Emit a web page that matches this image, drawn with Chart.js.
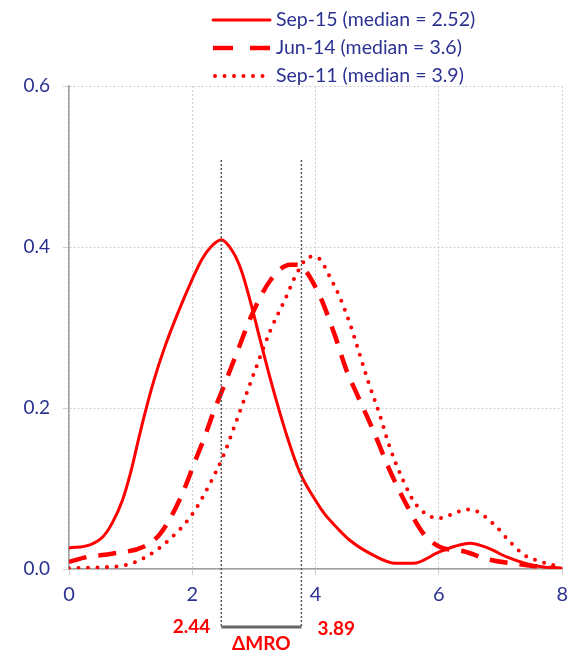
<!DOCTYPE html>
<html>
<head>
<meta charset="utf-8">
<script src="https://cdn.jsdelivr.net/npm/chart.js@4"></script>
<style>
  html, body { margin: 0; padding: 0; background: #fff; }
</style>
</head>
<body>
<canvas id="kurve" width="576" height="658"></canvas>
<script>
// Serienavn (legend)
const serieNavn = ['Sep-15 (median = 2.52)', 'Jun-14 (median = 3.6)', 'Sep-11 (median = 3.9)'];

// Sep-15 (heltrukken)
const sep15X = [0, 0.34, 0.55, 0.7, 0.87, 1.0, 1.14, 1.22, 1.38, 1.55, 1.75, 2.0, 2.15, 2.3, 2.47, 2.65, 2.8, 2.95, 3.1, 3.27, 3.54, 3.75, 4.0, 4.13, 4.3, 4.55, 4.94, 5.3, 5.58, 6.0, 6.25, 6.5, 6.8, 7.1, 7.5, 8.0];
const sep15Y = [0.026, 0.03, 0.04, 0.057, 0.086, 0.12, 0.165, 0.19, 0.235, 0.275, 0.315, 0.36, 0.384, 0.4, 0.409, 0.395, 0.37, 0.33, 0.285, 0.235, 0.164, 0.119, 0.085, 0.07, 0.055, 0.036, 0.017, 0.007, 0.007, 0.021, 0.028, 0.032, 0.026, 0.015, 0.005, 0];

// Jun-14 (stiplet)
const jun14X = [0, 0.3, 0.7, 1.22, 1.46, 1.62, 1.83, 2.05, 2.2, 2.34, 2.47, 2.74, 2.95, 3.27, 3.59, 3.7, 4.02, 4.3, 4.5, 4.66, 4.93, 5.2, 5.46, 5.74, 6.0, 6.4, 6.8, 7.4, 8.0];
const jun14Y = [0.009, 0.015, 0.019, 0.028, 0.042, 0.06, 0.092, 0.135, 0.164, 0.194, 0.219, 0.272, 0.313, 0.359, 0.378, 0.378, 0.347, 0.293, 0.247, 0.219, 0.173, 0.123, 0.082, 0.045, 0.028, 0.022, 0.012, 0.005, 0];

// Sep-11 (prikket)
const sep11X = [0, 0.5, 0.93, 1.25, 1.62, 2.0, 2.3, 2.5, 2.74, 3.0, 3.27, 3.5, 3.7, 3.91, 4.05, 4.23, 4.39, 4.55, 4.87, 5.03, 5.2, 5.42, 5.63, 6.0, 6.31, 6.47, 6.63, 6.9, 7.15, 7.39, 7.66, 8.0];
const sep11Y = [0.001, 0.002, 0.005, 0.015, 0.036, 0.068, 0.108, 0.14, 0.189, 0.243, 0.297, 0.334, 0.368, 0.388, 0.386, 0.363, 0.338, 0.306, 0.229, 0.194, 0.152, 0.11, 0.08, 0.063, 0.071, 0.074, 0.071, 0.055, 0.034, 0.017, 0.009, 0.002];

// Markeringer (medianlinjer og ΔMRO)
const markerX = [2.47, 3.77];
const markerTopp = 0.508;
const markerTekst = ['2.44', '3.89'];
const deltaTekst = 'ΔMRO';

const rod = '#ff0000';
const marine = '#2b3190';
const font = 'Lato, "Open Sans", sans-serif';

function punkter(xs, ys) {
  return xs.map((v, i) => ({ x: v, y: ys[i] }));
}

// Egen tegning: medianlinjer, klamme og legend
const ekstraTegning = {
  id: 'ekstra',
  afterDatasetsDraw(chart) {
    const { ctx, scales: { x, y } } = chart;
    const topp = y.getPixelForValue(markerTopp);
    const bunn = y.getPixelForValue(0) + 58;
    const a = x.getPixelForValue(markerX[0]);
    const b = x.getPixelForValue(markerX[1]);
    ctx.save();
    ctx.strokeStyle = '#555';
    ctx.lineWidth = 1.5;
    ctx.setLineDash([2, 2]);
    [a, b].forEach(px => {
      ctx.beginPath();
      ctx.moveTo(px, topp);
      ctx.lineTo(px, bunn);
      ctx.stroke();
    });
    ctx.setLineDash([]);
    ctx.strokeStyle = '#666';
    ctx.lineWidth = 3;
    ctx.beginPath();
    ctx.moveTo(a, bunn);
    ctx.lineTo(b, bunn);
    ctx.stroke();
    ctx.fillStyle = rod;
    ctx.font = 'bold 19px ' + font;
    ctx.textBaseline = 'middle';
    ctx.textAlign = 'right';
    ctx.fillText(markerTekst[0], a - 11, bunn);
    ctx.textAlign = 'left';
    ctx.fillText(markerTekst[1], b + 16, bunn + 2);
    ctx.textAlign = 'center';
    ctx.fillText(deltaTekst, (a + b) / 2, bunn + 17);
    ctx.restore();
  },
  afterDraw(chart) {
    const ctx = chart.ctx;
    ctx.save();
    chart.data.datasets.forEach((ds, i) => {
      const yy = 20 + 28 * i;
      ctx.strokeStyle = ds.borderColor;
      ctx.lineWidth = ds.borderWidth;
      ctx.lineCap = ds.borderCapStyle || 'butt';
      ctx.setLineDash(i === 1 ? [20, 17] : (ds.borderDash || []));
      ctx.beginPath();
      ctx.moveTo(i === 2 ? 215 : 213, yy);
      ctx.lineTo(270, yy);
      ctx.stroke();
      ctx.setLineDash([]);
      ctx.fillStyle = marine;
      ctx.font = '19.5px ' + font;
      ctx.textAlign = 'left';
      ctx.textBaseline = 'middle';
      ctx.fillText(ds.label, 276, yy);
    });
    ctx.restore();
  }
};

new Chart(document.getElementById('kurve'), {
  type: 'line',
  data: {
    datasets: [
      { label: serieNavn[0], data: punkter(sep15X, sep15Y), borderColor: rod, borderWidth: 3, borderCapStyle: 'round' },
      { label: serieNavn[1], data: punkter(jun14X, jun14Y), borderColor: rod, borderWidth: 4.5, borderDash: [18, 12] },
      { label: serieNavn[2], data: punkter(sep11X, sep11Y), borderColor: rod, borderWidth: 4, borderDash: [0, 9.5], borderCapStyle: 'round' }
    ]
  },
  options: {
    responsive: false,
    animation: false,
    elements: { point: { radius: 0 }, line: { cubicInterpolationMode: 'monotone', fill: false } },
    layout: { padding: { top: 86, right: 8, left: 0, bottom: 0 } },
    plugins: { legend: { display: false }, tooltip: { enabled: false } },
    scales: {
      x: {
        type: 'linear', min: 0, max: 8,
        ticks: { stepSize: 2, color: marine, font: { family: font, size: 20 }, padding: 8 },
        grid: { color: '#cfcfcf', lineWidth: 1, tickLength: 6 },
        border: { color: '#a0a0a0', width: 1.5, dash: [2, 2] },
        afterFit: s => { s.height = 89; }
      },
      y: {
        min: 0, max: 0.6,
        ticks: { stepSize: 0.2, color: marine, font: { family: font, size: 19 }, padding: 13, callback: v => v.toFixed(1) },
        grid: { color: '#cfcfcf', lineWidth: 1, tickLength: 6 },
        border: { color: '#a0a0a0', width: 1.5, dash: [2, 2] },
        afterFit: s => { s.width = 69; }
      }
    }
  },
  plugins: [ekstraTegning]
});
</script>
</body>
</html>
